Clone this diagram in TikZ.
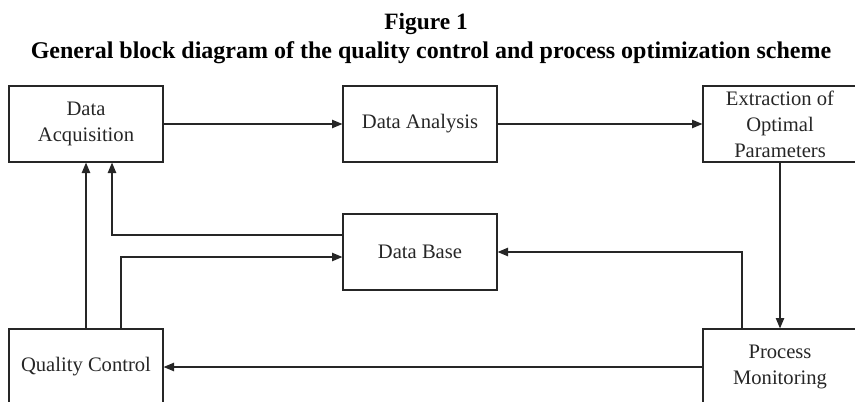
\documentclass[tikz,border=0pt]{standalone}
\usepackage{fontspec}
\setmainfont{Liberation Serif}
\usetikzlibrary{arrows.meta}

\tikzset{
  block/.style={draw=black!85, line width=0.6pt, minimum width=77pt, minimum height=38pt,
    inner sep=1pt, align=center, text=black!85, font=\fontsize{10.3}{13}\selectfont},
  flow/.style={draw=black!85, line width=0.6pt, -{Triangle[length=5.2pt,width=4.2pt]}},
  caption/.style={anchor=base, font=\fontsize{11.7}{14}\selectfont\bfseries}
}

\begin{document}
\begin{tikzpicture}[x=0.5pt, y=-0.5pt]
\useasboundingbox (0,0) rectangle (855,401);
\clip (0,0) rectangle (855,401);

% heading
\node[caption] (fig) at (426,30) {Figure 1};
\node[caption, font=\fontsize{12}{14}\selectfont\bfseries] (head) at (431,59) {General block diagram of the quality control and process optimization scheme};

% upper row
\node[block] (acq) at (86,124) {Data\\Acquisition};
\node[block] (ana) at (420,124) {Data Analysis};
\node[block] (ext) at (780,124) {Extraction of\\Optimal\\Parameters};

% middle
\node[block] (db) at (420,252) {Data Base};

% lower row (cut by the page edge)
\node[block] (qc) at (86,367) {Quality Control};
\node[block] (pm) at (780,367) {Process\\Monitoring};

% forward path
\draw[flow] (acq) -- (ana);
\draw[flow] (ana) -- (ext);
\draw[flow] (ext) -- (pm);
\draw[flow] (pm) -- (qc);

% feedback loops
\draw[flow] (qc.north) -- (acq.south);
\draw[flow] ([xshift=17.5pt]qc.north) |- ([yshift=-2.5pt]db.west);
\draw[flow] ([yshift=8.5pt]db.west) -| ([xshift=13pt]acq.south);
\draw[flow] ([xshift=-19pt]pm.north) |- (db.east);

\end{tikzpicture}
\end{document}
